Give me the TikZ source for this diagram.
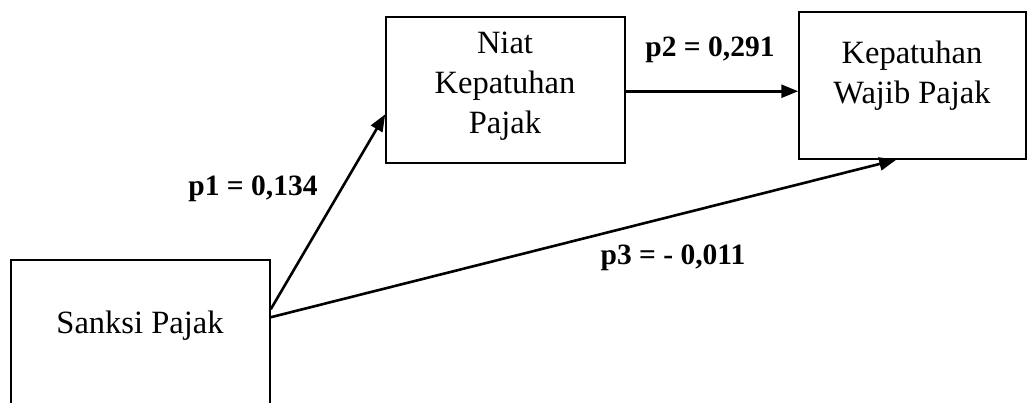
\documentclass[tikz,border=0pt]{standalone}
\usepackage{fontspec}
\setmainfont{Liberation Serif}
\usetikzlibrary{arrows.meta,calc}
\begin{document}
\begin{tikzpicture}[x=1pt,y=-1pt,
  box/.style={draw,line width=1.5pt,inner sep=0pt},
  txt/.style={align=center,font=\fontsize{32.5}{40}\selectfont},
  lbl/.style={font=\fontsize{29.5}{34}\selectfont\bfseries},
  arr/.style={line width=2.6pt,-{Triangle[length=17pt,width=13pt]}}]
\clip (0,0) rectangle (1027,403);
\node[box,minimum width=259pt,minimum height=160pt] (sanksi) at (140.5,340) {};
\node[box,minimum width=239pt,minimum height=146pt] (niat) at (505.5,90) {};
\node[box,minimum width=227pt,minimum height=147pt] (patuh) at (912.5,85.5) {};
\node[txt] (tsanksi) at (140,326) {Sanksi Pajak};
\node[txt] (tniat) at (505,86) {Niat\\Kepatuhan\\Pajak};
\node[txt] (tpatuh) at (912,76) {Kepatuhan\\Wajib Pajak};
\coordinate (s1) at ($(sanksi.north east)+(0,50)$);
\coordinate (s3) at ($(sanksi.north east)+(0,58)$);
\coordinate (n1) at ($(niat.north west)+(0,98)$);
\coordinate (n2) at ($(niat.north east)+(0,75)$);
\coordinate (k2) at (patuh.west |- n2);
\coordinate (k3) at ($(patuh.south west)+(98,0)$);
\draw[arr] (s1) -- (n1);
\draw[arr] (n2) -- (k2);
\draw[arr] (s3) -- (k3);
\node[lbl] (p1) at (253,189) {p1 = 0,134};
\node[lbl] (p2) at (710,50) {p2 = 0,291};
\node[lbl] (p3) at (673,258) {p3 = - 0,011};
\end{tikzpicture}
\end{document}
